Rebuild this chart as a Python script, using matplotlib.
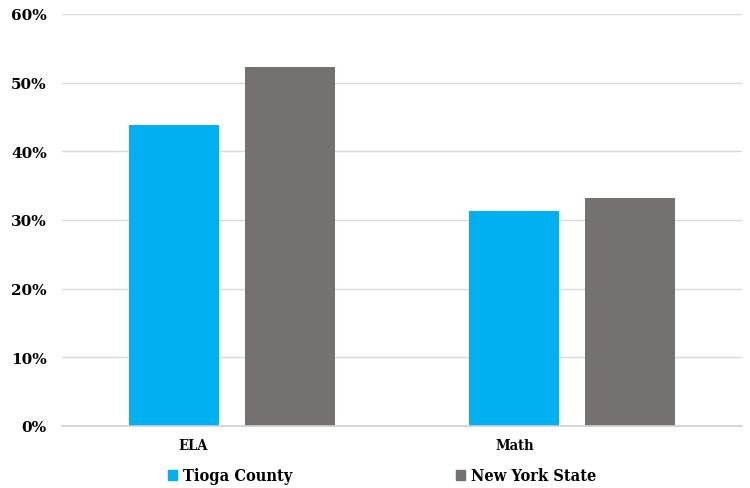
import matplotlib
matplotlib.use("Agg")
import matplotlib.pyplot as plt
import numpy as np
from matplotlib.patches import Patch

categories = ["ELA", "Math"]
series_names = ["Tioga County", "New York State"]
tioga = [43.8, 31.3]
nys = [52.3, 33.2]
yticks = [0, 10, 20, 30, 40, 50, 60]
ytick_labels = ["0%", "10%", "20%", "30%", "40%", "50%", "60%"]

blue = "#00B0F0"
grey = "#767171"

fig = plt.figure(figsize=(7.5, 4.89), dpi=100)
ax = fig.add_axes([62/750, 1-427/489, 680/750, 412/489])

x = np.arange(len(categories))
w = 0.265
gap = 0.076
ax.bar(x - (w+gap)/2, tioga, width=w, color=blue, zorder=3)
ax.bar(x + (w+gap)/2, nys, width=w, color=grey, zorder=3)

ax.set_xlim(-0.5, 1.5)
ax.set_ylim(0, 60)
ax.set_yticks(yticks)
ax.set_yticklabels(ytick_labels, fontfamily="DejaVu Serif", fontweight="bold", fontsize=11)
ax.yaxis.grid(True, color="#D9D9D9", linewidth=1, zorder=0)
ax.axhline(0, color="#D0D0D0", linewidth=1.2, zorder=4, clip_on=False)
ax.tick_params(axis="y", length=0, pad=11)
ax.set_xticks([])
for s in ["top", "right", "left", "bottom"]:
    ax.spines[s].set_visible(False)

label_pos = [0.193, 0.666]
for lab, p in zip(categories, label_pos):
    ax.text(p, -0.046, lab, transform=ax.transAxes, ha="center", va="center",
            fontfamily="DejaVu Serif", fontstretch="condensed", fontweight="bold", fontsize=10.5)

handles = [Patch(color=blue), Patch(color=grey)]
leg = fig.legend(handles, series_names, loc="center left", bbox_to_anchor=(153.5/750, 1-477/489),
                 ncol=2, frameon=False, handlelength=0.55, handleheight=0.55, handletextpad=0.37,
                 columnspacing=10.1,
                 prop={"family": "DejaVu Serif", "weight": "bold", "size": 11.7, "stretch": "condensed"})

fig.savefig("out.png", dpi=100)
